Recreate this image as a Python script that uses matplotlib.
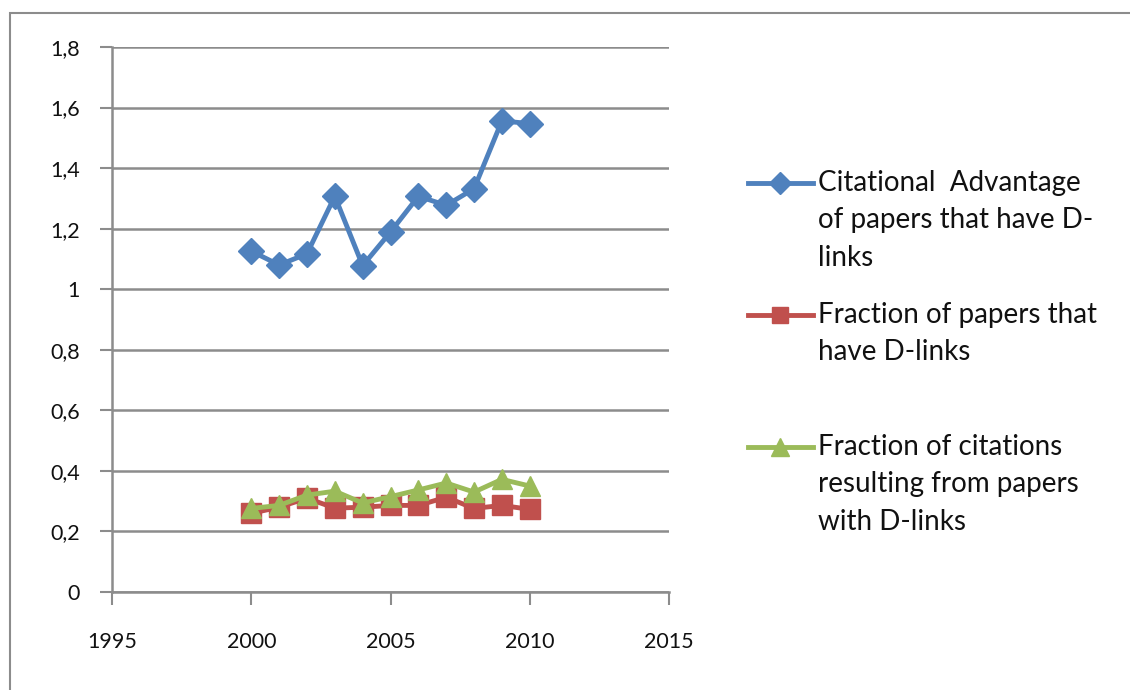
import matplotlib.pyplot as plt
from matplotlib.lines import Line2D
from matplotlib.patches import Rectangle
from matplotlib.ticker import FuncFormatter

plt.rcParams['font.family'] = ['Lato', 'DejaVu Sans']

# dados
anos = [2000, 2001, 2002, 2003, 2004, 2005, 2006, 2007, 2008, 2009, 2010]
vantagem = [1.126, 1.08, 1.117, 1.307, 1.078, 1.189, 1.307, 1.277, 1.332, 1.556, 1.547]
frac_papers = [0.26, 0.28, 0.31, 0.277, 0.28, 0.286, 0.286, 0.313, 0.276, 0.286, 0.273]
frac_citacoes = [0.276, 0.286, 0.32, 0.333, 0.294, 0.315, 0.337, 0.36, 0.33, 0.372, 0.35]

rotulos = ["Citational  Advantage\nof papers that have D-\nlinks",
           "Fraction of papers that\nhave D-links",
           "Fraction of citations\nresulting from papers\nwith D-links"]
cores = ['#4F81BD', '#C0504D', '#9BBB59']
marcadores = ['D', 's', '^']

W, H = 1130, 690
fig = plt.figure(figsize=(W / 100, H / 100), dpi=100)

# moldura do grafico
fig.patches.append(Rectangle((10 / W, -0.1), 1.2, 1 - 13 / H + 0.1, transform=fig.transFigure,
                             fill=False, edgecolor='#8c8c8c', linewidth=1.5))

ax = fig.add_axes([112 / W, 1 - 592 / H, (669 - 112) / W, (592 - 47) / H])
series = [vantagem, frac_papers, frac_citacoes]
tamanhos = [13, 14, 15]
for valores, cor, marc, ms in zip(series, cores, marcadores, tamanhos):
    ax.plot(anos, valores, color=cor, marker=marc, markersize=ms, linewidth=3.5,
            markeredgecolor=cor)

ax.set_xlim(1995, 2015)
ax.set_ylim(0, 1.8)
ax.set_xticks([1995, 2000, 2005, 2010, 2015])
ax.set_yticks([0, 0.2, 0.4, 0.6, 0.8, 1.0, 1.2, 1.4, 1.6, 1.8])
ax.yaxis.set_major_formatter(FuncFormatter(lambda v, p: ('%g' % round(v, 1)).replace('.', ',')))
ax.grid(axis='y', color='#8c8c8c', linewidth=1.8)
ax.set_axisbelow(True)
for lado in ['top', 'right']:
    ax.spines[lado].set_visible(False)
for lado in ['left', 'bottom']:
    ax.spines[lado].set_color('#8c8c8c')
    ax.spines[lado].set_linewidth(1.8)
ax.tick_params(axis='both', colors='#8c8c8c', width=1.5, length=9, labelsize=15.5,
               labelcolor='#111111')
ax.tick_params(axis='x', pad=20)
ax.tick_params(axis='y', pad=14)

# legenda desenhada manualmente (como no Excel)
y_legenda = [183, 315, 447]
for y, texto, cor, marc, ms in zip(y_legenda, rotulos, cores, marcadores, tamanhos):
    fy = 1 - y / H
    fig.add_artist(Line2D([748 / W, 813 / W], [fy, fy], color=cor, linewidth=3.5,
                          transform=fig.transFigure))
    fig.add_artist(Line2D([780 / W], [fy], color=cor, marker=marc, markersize=ms - 2,
                          transform=fig.transFigure))
    fig.text(818 / W, fy + 13 / H, texto, fontsize=20, color='#111111', va='top',
             ha='left', linespacing=1.54)

fig.savefig('out.png', dpi=100)
